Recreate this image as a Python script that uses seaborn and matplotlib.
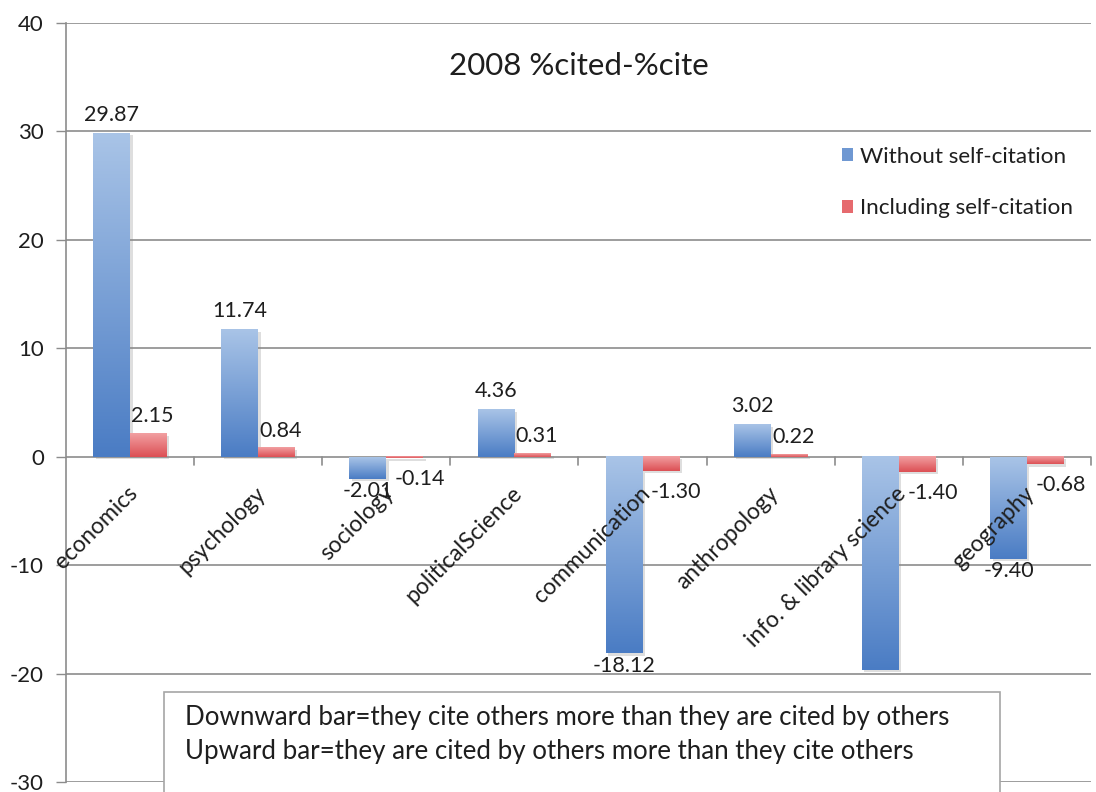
import numpy as np
import pandas as pd
import matplotlib
matplotlib.use("Agg")
import matplotlib.pyplot as plt
import matplotlib.patheffects as pe
from matplotlib.colors import LinearSegmentedColormap
from matplotlib.patches import Rectangle
import seaborn as sns

# ---- data -------------------------------------------------------------
categories = ["economics", "psychology", "sociology", "politicalScience",
              "communication", "anthropology", "info. & library science",
              "geography"]
without_self = [29.87, 11.74, -2.01, 4.36, -18.12, 3.02, -19.65, -9.40]
including_self = [2.15, 0.84, -0.14, 0.31, -1.30, 0.22, -1.40, -0.68]
series_names = ["Without self-citation", "Including self-citation"]
# labels that are printed next to the bars (one is hidden behind the note box)
show_without_label = [True, True, True, True, True, True, False, True]
yticks = [-30, -20, -10, 0, 10, 20, 30, 40]
title = "2008 %cited-%cite"
note_lines = ["Downward bar=they cite others more than they are cited by others",
              "Upward bar=they are cited by others more than they cite others"]

df = pd.DataFrame({
    "category": categories * 2,
    "value": without_self + including_self,
    "series": [series_names[0]] * len(categories) + [series_names[1]] * len(categories),
})

# ---- style ------------------------------------------------------------
sns.set_theme(style="white")
plt.rcParams["font.family"] = ["Lato", "DejaVu Sans"]
text_color = "#1e1e1e"
grid_color = "#8c8c8c"
label_size = 15.5

fig = plt.figure(figsize=(10.96, 7.92), dpi=100)
ax = fig.add_axes([0.0602, 0.0126, 0.9352, 0.9583])

blue_mid, red_mid = "#4f81c6", "#e05a5e"
sns.barplot(data=df, x="category", y="value", hue="series",
            palette=[blue_mid, red_mid], width=0.575, ax=ax,
            saturation=1, legend=True, zorder=3)

ax.set_ylim(-30, 40)
ax.set_xlim(-0.5, len(categories) - 0.5)
ax.set_yticks(yticks)
ax.set_yticklabels([str(t) for t in yticks], fontsize=16, color=text_color)
ax.tick_params(axis="y", length=7, width=1, color=grid_color, pad=9, left=True)
ax.set_xticks([])
ax.set_xlabel("")
ax.set_ylabel("")
for side in ["top", "right", "bottom"]:
    ax.spines[side].set_visible(False)
ax.spines["left"].set_color(grid_color)
ax.spines["left"].set_linewidth(1.2)
for t in yticks:
    ax.axhline(t, color=grid_color, lw=1.2, zorder=1)

# category ticks on the zero line
for b in np.arange(0.5, len(categories) - 0.4, 1.0):
    ax.plot([b, b], [0, -0.75], color=grid_color, lw=1.2, zorder=2, clip_on=False)

# gradient fill for each bar
blue_cmap = LinearSegmentedColormap.from_list("b", ["#a9c4e7", "#4a7cc4"])
red_cmap = LinearSegmentedColormap.from_list("r", ["#f2a0a2", "#dc4f54"])
grad = np.linspace(0, 1, 256).reshape(-1, 1)
shadow = [pe.SimplePatchShadow(offset=(1.8, -1.8), shadow_rgbFace="#8a8a8a", alpha=0.28)]
for cont, cmap in zip(ax.containers, [blue_cmap, red_cmap]):
    for bar in cont:
        x0 = bar.get_x()
        w = bar.get_width()
        y0 = bar.get_y()
        h = bar.get_height()
        lo, hi = min(y0, y0 + h), max(y0, y0 + h)
        ax.imshow(grad, cmap=cmap, aspect="auto", origin="upper",
                  extent=[x0, x0 + w, lo, hi], zorder=4, interpolation="bicubic")
        bar.set_facecolor("none")
        bar.set_edgecolor("none")
        bar.set_path_effects(shadow)
ax.set_ylim(-30, 40)
ax.set_xlim(-0.5, len(categories) - 0.5)

# value labels
for i, bar in enumerate(ax.containers[0]):
    v = without_self[i]
    if not show_without_label[i]:
        continue
    xc = bar.get_x() + bar.get_width() / 2
    if v >= 0:
        ax.annotate(f"{v:.2f}", (xc, v), xytext=(0, 6), textcoords="offset points",
                    ha="center", va="bottom", fontsize=label_size, color=text_color, zorder=6)
    else:
        ax.annotate(f"{v:.2f}", (xc, v), xytext=(0, -2), textcoords="offset points",
                    ha="center", va="top", fontsize=label_size, color=text_color, zorder=6)
for i, bar in enumerate(ax.containers[1]):
    v = including_self[i]
    xc = bar.get_x() + bar.get_width() / 2
    if v >= 0:
        ax.annotate(f"{v:.2f}", (xc, v), xytext=(3, 5), textcoords="offset points",
                    ha="center", va="bottom", fontsize=label_size, color=text_color, zorder=6)
    else:
        ax.annotate(f"{v:.2f}", (xc, v), xytext=(11, -8), textcoords="offset points",
                    ha="center", va="top", fontsize=label_size, color=text_color, zorder=6)

# rotated category names hanging from the zero line
for i, name in enumerate(categories):
    ax.annotate(name, (i, 0), xytext=(3, -24), textcoords="offset points",
                rotation=45, rotation_mode="anchor", ha="right", va="center",
                fontsize=16.5, color=text_color, zorder=7)

# title
ax.text(0.5, 0.943, title, transform=ax.transAxes, ha="center", va="center",
        fontsize=22.5, color=text_color)

# legend
handles, labels = ax.get_legend_handles_labels()
for h, c in zip(handles, ["#6f98d2", "#e66a6e"]):
    h.set_facecolor(c)
    h.set_edgecolor("none")
ax.legend(handles, labels, loc="center left", bbox_to_anchor=(0.737, 0.79),
          frameon=False, fontsize=16.2, labelspacing=1.4, handlelength=0.5,
          handleheight=0.5, handletextpad=0.3, labelcolor=text_color)

# explanatory note box
box = Rectangle((164 / 1096, -0.05), (1000 - 164) / 1096, (1 - 692 / 792) + 0.05,
                transform=fig.transFigure, facecolor="white", edgecolor="#a6a6a6",
                lw=1.2, zorder=10)
fig.add_artist(box)
fig.text(185 / 1096, 1 - 718 / 792, note_lines[0], ha="left", va="center",
         fontsize=18.6, color=text_color, zorder=11)
fig.text(185 / 1096, 1 - 752 / 792, note_lines[1], ha="left", va="center",
         fontsize=18.6, color=text_color, zorder=11)

fig.savefig("out.png", dpi=100, facecolor="white")
